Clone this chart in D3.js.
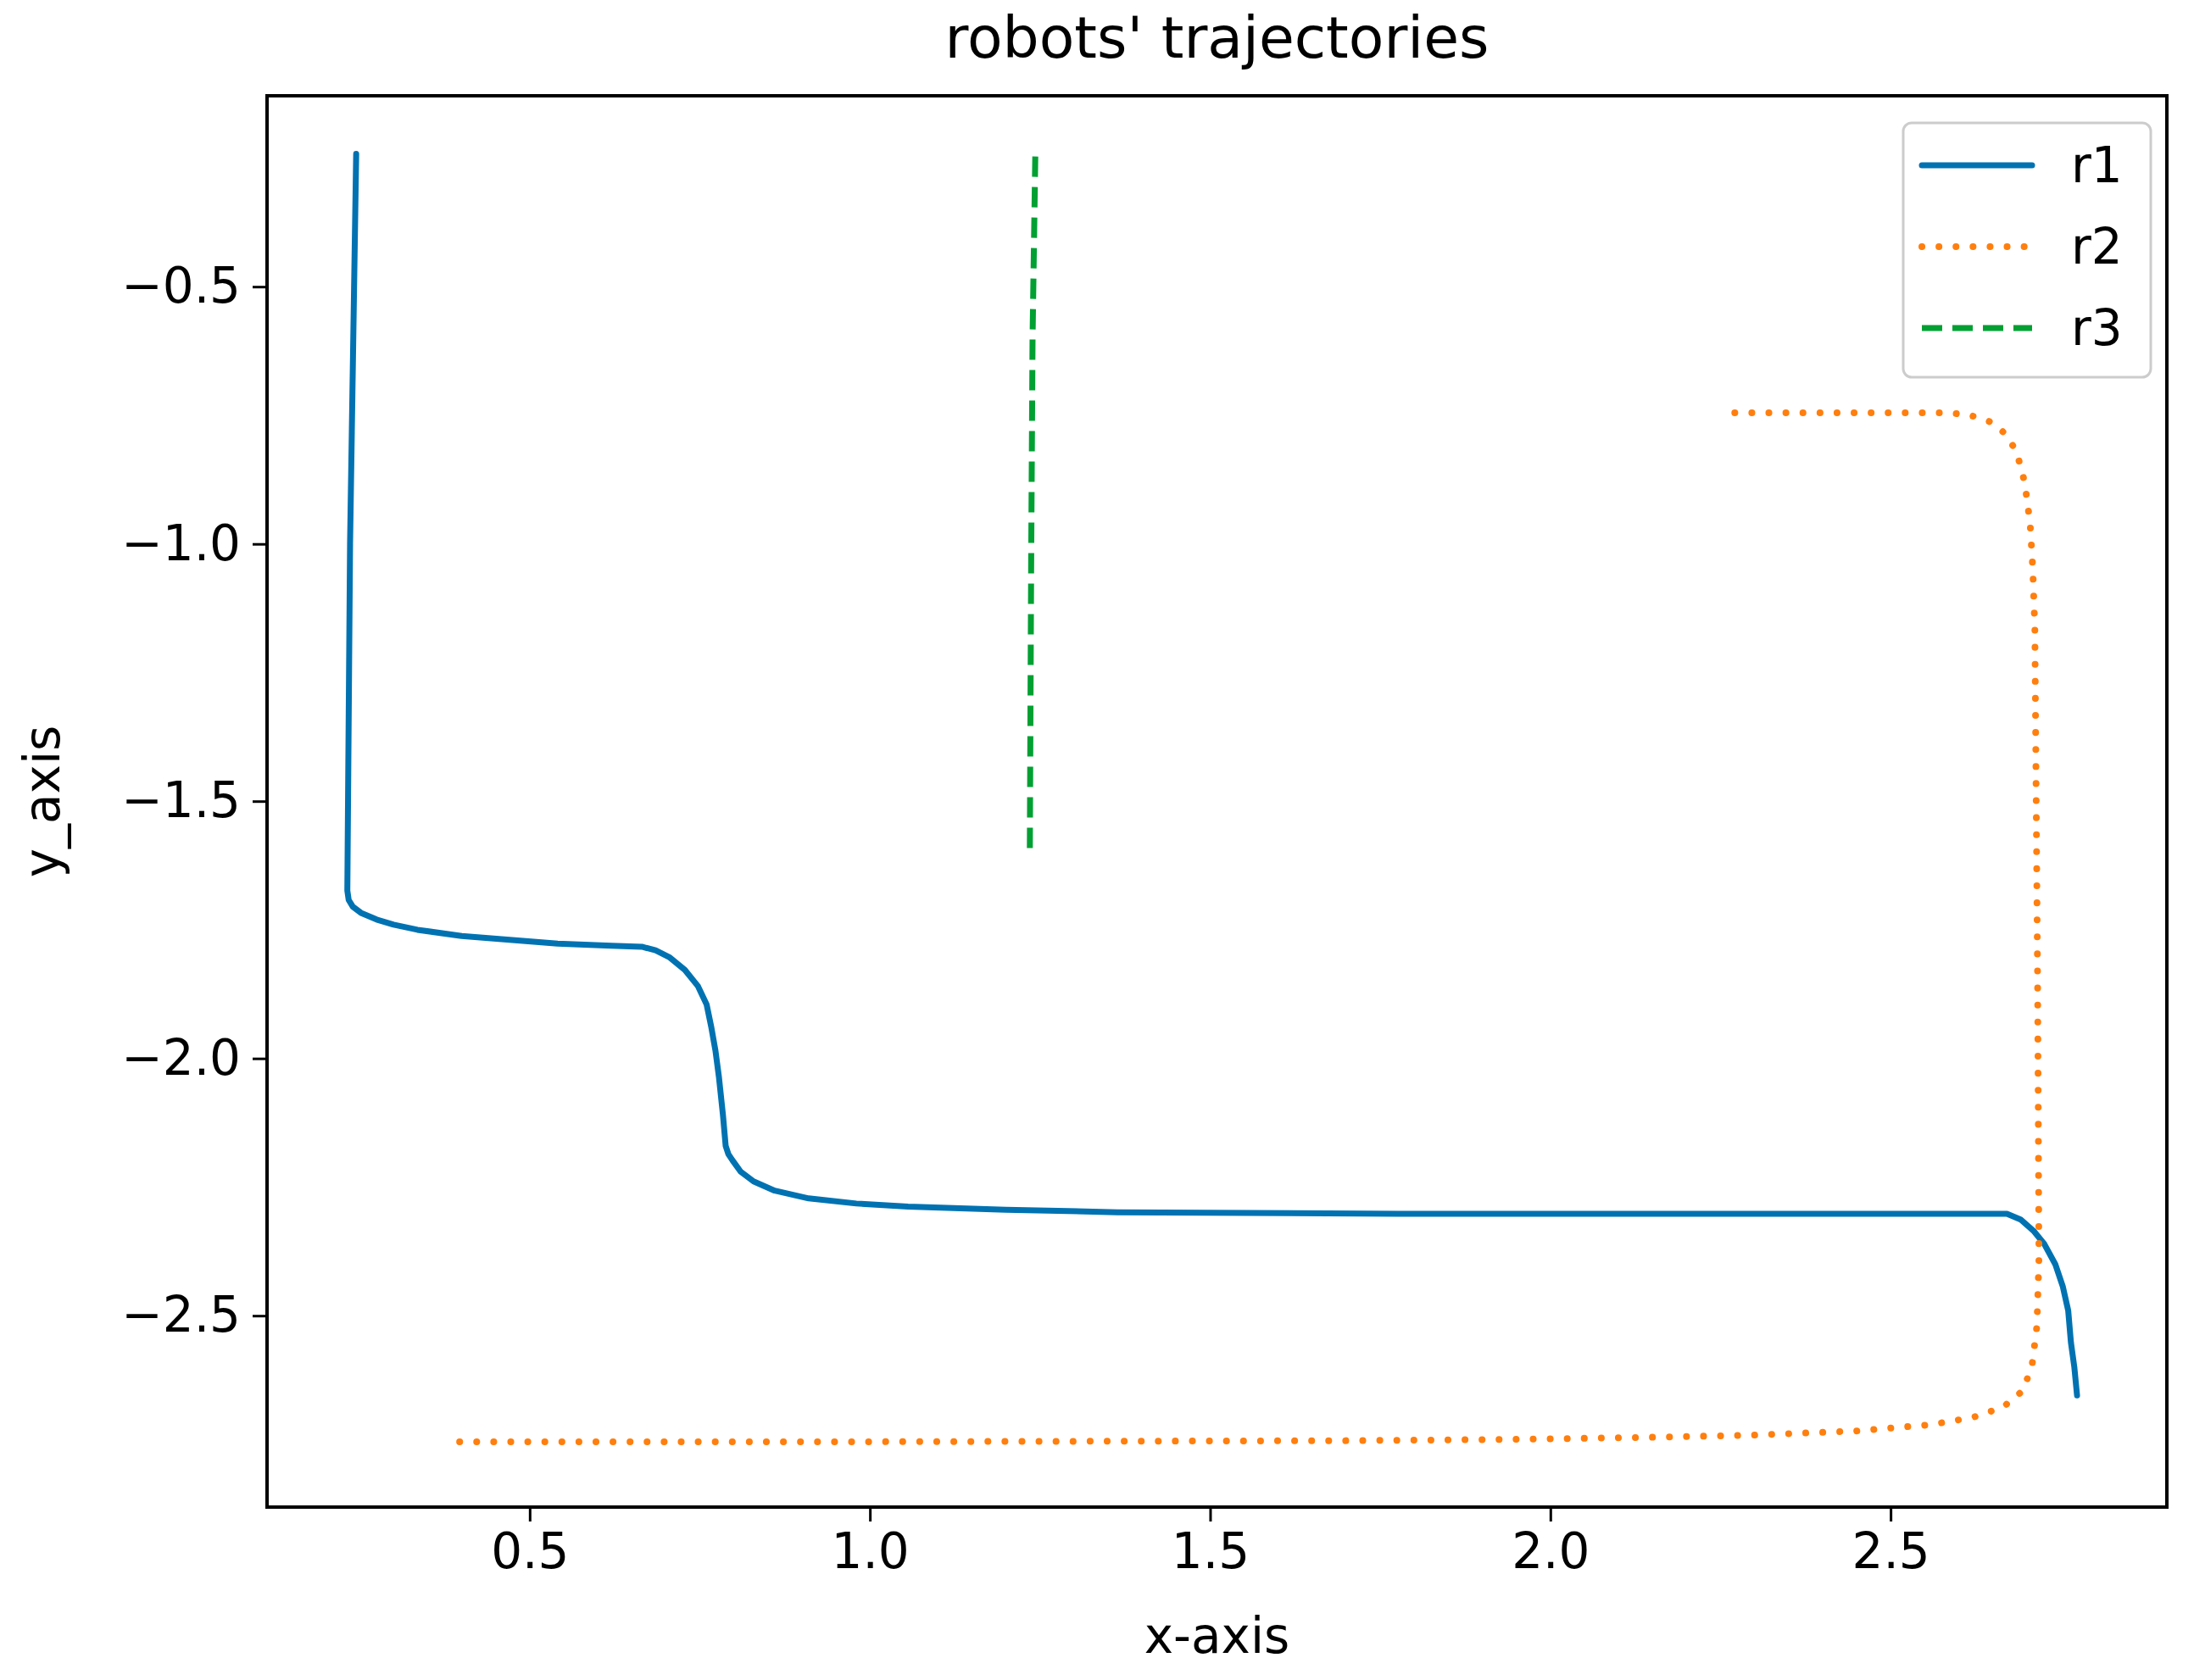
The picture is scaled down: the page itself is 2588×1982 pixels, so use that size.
<!DOCTYPE html>
<html><head><meta charset="utf-8">
<script src="https://cdn.jsdelivr.net/npm/d3@7"></script>
<style>body{margin:0;background:#fff}</style></head>
<body><svg id="c" width="2588" height="1982"></svg>
<script>
const seriesNames = ["r1","r2","r3"];
const r1x = [0.245,0.236,0.232,0.234,0.24,0.252,0.275,0.3,0.335,0.4,0.541,0.62,0.665,0.685,0.706,0.728,0.747,0.76,0.767,0.773,0.778,0.784,0.788,0.792,0.798,0.81,0.829,0.86,0.91,0.98,1.056,1.2,1.364,1.776,2.2,2.671,2.691,2.71,2.726,2.742,2.753,2.761,2.765,2.77,2.774];
const r1y = [-0.242,-1.0,-1.674,-1.692,-1.705,-1.717,-1.73,-1.74,-1.75,-1.762,-1.777,-1.781,-1.783,-1.79,-1.804,-1.828,-1.859,-1.895,-1.94,-1.985,-2.035,-2.11,-2.17,-2.186,-2.198,-2.22,-2.239,-2.257,-2.272,-2.282,-2.288,-2.294,-2.299,-2.302,-2.302,-2.302,-2.313,-2.335,-2.361,-2.4,-2.443,-2.49,-2.552,-2.6,-2.655];
const r2x = [0.397,1.0,1.687,1.893,2.016,2.16,2.3,2.45,2.558,2.62,2.665,2.695,2.708,2.715,2.718,2.717,2.716,2.712,2.709,2.705,2.697,2.685,2.668,2.645,2.615,2.58,2.496,2.249];
const r2y = [-2.745,-2.745,-2.743,-2.741,-2.739,-2.736,-2.732,-2.724,-2.712,-2.698,-2.678,-2.645,-2.595,-2.52,-2.389,-2.1,-1.845,-1.166,-1.05,-0.96,-0.88,-0.82,-0.785,-0.762,-0.749,-0.745,-0.745,-0.745];
const r3x = [1.243,1.239,1.237,1.236,1.235];
const r3y = [-0.247,-0.6,-1.03,-1.3,-1.595];
const xTicks = [0.5,1.0,1.5,2.0,2.5];
const yTicks = [-0.5,-1.0,-1.5,-2.0,-2.5];

const L=315,R=2556,T=113,B=1778;
const x=d3.scaleLinear().domain([0.114,2.906]).range([L,R]);
const y=d3.scaleLinear().domain([-2.872,-0.129]).range([B,T]);
const svg=d3.select("#c");
const font="DejaVu Sans, sans-serif";
const colors=["#0072b2","#ff7f0e","#00a032"];
const dashes=[null,"0.1 20","24 12"];
const caps=["round","round","butt"];
const data=[[r1x,r1y],[r2x,r2y],[r3x,r3y]].map(([a,b])=>a.map((v,i)=>[v,b[i]]));
const line=d3.line().x(d=>x(d[0])).y(d=>y(d[1])).curve(d3.curveLinear);
data.forEach((d,i)=>{
  svg.append("path").attr("d",line(d)).attr("fill","none")
   .attr("stroke",colors[i]).attr("stroke-width",i==1?8:7)
   .attr("stroke-dasharray",dashes[i]).attr("stroke-linecap",caps[i]).attr("stroke-linejoin","round");
});
const gx=svg.append("g").attr("transform",`translate(0,${B})`).call(d3.axisBottom(x).tickValues(xTicks).tickFormat(d3.format(".1f")).tickSize(17).tickPadding(14));
const gy=svg.append("g").attr("transform",`translate(${L},0)`).call(d3.axisLeft(y).tickValues(yTicks).tickFormat(d=>d3.format(".1f")(d).replace("-","\u2212")).tickSize(17).tickPadding(14));
[gx,gy].forEach(g=>{g.select(".domain").remove();g.selectAll("line").attr("stroke","#000").attr("stroke-width",3);
 g.selectAll("text").attr("font-family",font).attr("font-size",58).attr("fill","#000");});
svg.append("rect").attr("x",L).attr("y",T).attr("width",R-L).attr("height",B-T).attr("fill","none").attr("stroke","#000").attr("stroke-width",4);
svg.append("text").attr("x",(L+R)/2).attr("y",68).attr("text-anchor","middle").attr("font-family",font).attr("font-size",68).text("robots' trajectories");
svg.append("text").attr("x",(L+R)/2).attr("y",1950).attr("text-anchor","middle").attr("font-family",font).attr("font-size",58).text("x-axis");
svg.append("text").attr("transform",`translate(70,${(T+B)/2}) rotate(-90)`).attr("text-anchor","middle").attr("font-family",font).attr("font-size",58).text("y_axis");
const lg=svg.append("g").attr("transform","translate(2245,145)");
lg.append("rect").attr("width",292).attr("height",300).attr("rx",10).attr("fill","#fff").attr("stroke","#ccc").attr("stroke-width",3);
seriesNames.forEach((n,i)=>{
  const yy=50+i*96;
  lg.append("line").attr("x1",22).attr("x2",152).attr("y1",yy).attr("y2",yy).attr("stroke",colors[i]).attr("stroke-width",i==1?8:7)
   .attr("stroke-dasharray",dashes[i]).attr("stroke-linecap",caps[i]);
  lg.append("text").attr("x",198).attr("y",yy+20).attr("font-family",font).attr("font-size",58).text(n);
});
</script></body></html>
